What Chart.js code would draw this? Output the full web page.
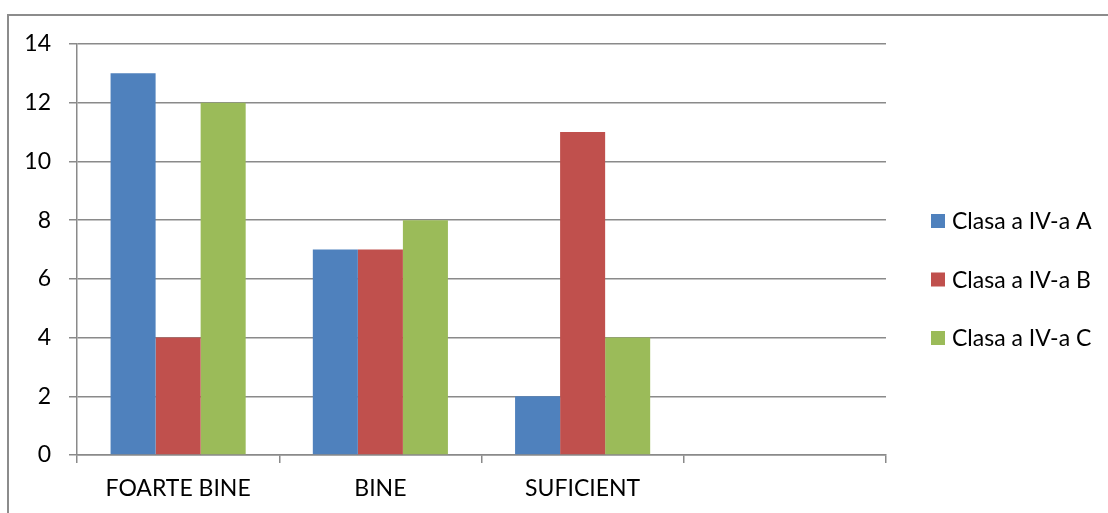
<!DOCTYPE html>
<html><head><meta charset="utf-8">
<script src="https://cdn.jsdelivr.net/npm/chart.js@4"></script>
<style>
html,body{margin:0;padding:0;background:#fff;overflow:hidden;}
#wrap{position:relative;width:1108px;height:513px;}
#frame{position:absolute;left:7px;top:14px;width:1200px;height:600px;border:2px solid #8c8c8c;box-sizing:border-box;pointer-events:none;}
canvas{position:absolute;left:0;top:0;}
</style></head>
<body><div id="wrap"><canvas id="c" width="1108" height="513"></canvas><div id="frame"></div></div>
<script>
const categories = ['FOARTE BINE', 'BINE', 'SUFICIENT', ''];
const seriesNames = ['Clasa a IV-a A', 'Clasa a IV-a B', 'Clasa a IV-a C'];
const clasaA = [13, 7, 2, null];
const clasaB = [4, 7, 11, null];
const clasaC = [12, 8, 4, null];
const yTicks = [0, 2, 4, 6, 8, 10, 12, 14];

const colors = ['#4F81BD', '#C0504D', '#9BBB59'];
const FONT = 'Lato, "Open Sans", sans-serif';
const gridColor = '#8a8a8a';

const legendPlugin = {
  id: 'customLegend',
  afterDraw(chart) {
    const ctx = chart.ctx;
    ctx.save();
    ctx.font = '23px ' + FONT;
    ctx.textBaseline = 'middle';
    ctx.textAlign = 'left';
    chart.data.datasets.forEach((ds, i) => {
      const y = 221 + i * 58.5;
      ctx.fillStyle = ds.backgroundColor;
      ctx.fillRect(931, y - 7, 14, 14);
      ctx.fillStyle = '#000';
      ctx.fillText(ds.label, 952, y + 1);
    });
    ctx.restore();
  }
};

new Chart(document.getElementById('c'), {
  type: 'bar',
  data: {
    labels: categories,
    datasets: [
      {label: seriesNames[0], data: clasaA, backgroundColor: colors[0]},
      {label: seriesNames[1], data: clasaB, backgroundColor: colors[1]},
      {label: seriesNames[2], data: clasaC, backgroundColor: colors[2]}
    ]
  },
  options: {
    responsive: false,
    animation: false,
    devicePixelRatio: 1,
    layout: {padding: {left: 0, top: 44, right: 222, bottom: 0}},
    datasets: {bar: {categoryPercentage: 0.668, barPercentage: 1.0, borderWidth: 0}},
    plugins: {legend: {display: false}, tooltip: {enabled: false}},
    scales: {
      x: {
        grid: {display: true, drawOnChartArea: false, drawTicks: true, tickLength: 8, color: gridColor, lineWidth: 1.5, offset: true},
        border: {display: true, color: gridColor, width: 1.5},
        ticks: {color: '#000', font: {family: FONT, size: 23}, padding: 12, maxRotation: 0, autoSkip: false},
        afterFit(s) { s.height = 58; }
      },
      y: {
        min: 0, max: 14,
        afterBuildTicks(s) { s.ticks = yTicks.map(v => ({value: v})); },
        grid: {color: gridColor, lineWidth: 1.5, tickLength: 8, drawTicks: true},
        border: {display: true, color: gridColor, width: 1.5},
        ticks: {color: '#000', font: {family: FONT, size: 23}, padding: 18},
        afterFit(s) { s.width = 77; }
      }
    }
  },
  plugins: [legendPlugin]
});
</script>
</body></html>
